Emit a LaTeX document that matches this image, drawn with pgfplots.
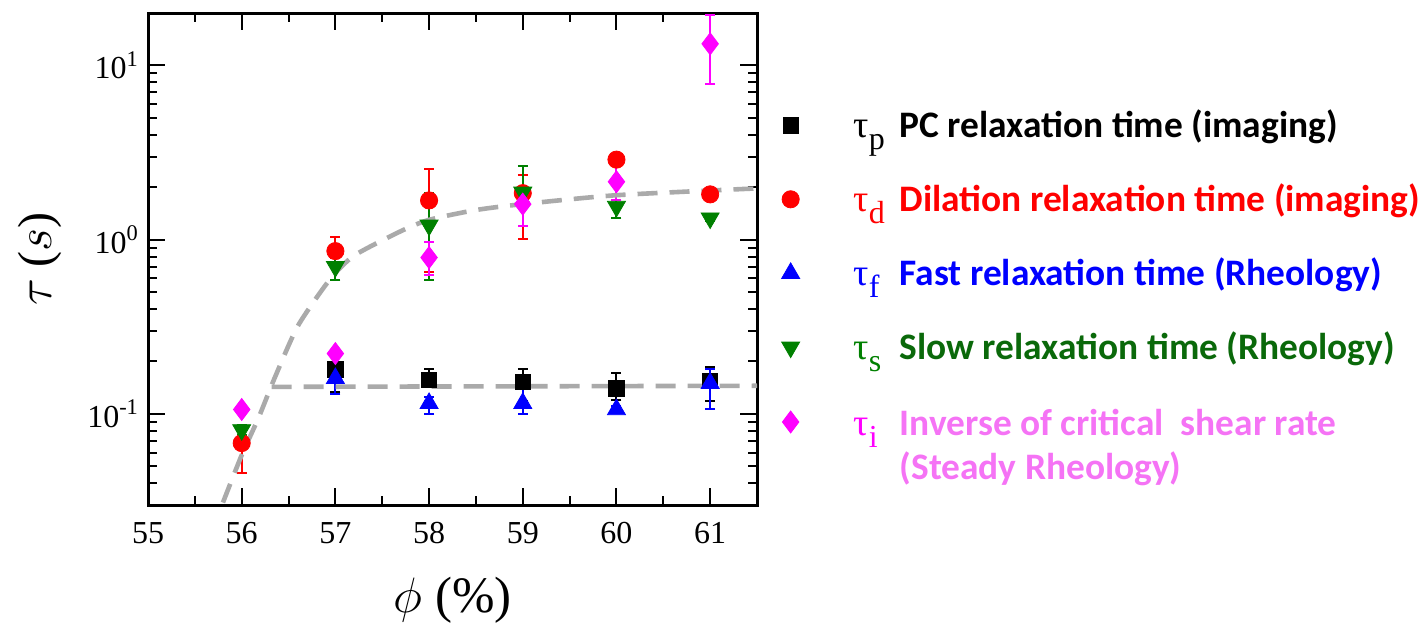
\documentclass[border=0pt]{standalone}
\usepackage{fontspec}
\setmainfont{Liberation Serif}
\newfontfamily\leg{Carlito}
\usepackage{pgfplots}
\pgfplotsset{compat=1.18}
\definecolor{mred}{RGB}{255,0,0}
\definecolor{mblue}{RGB}{0,0,255}
\definecolor{mgreen}{RGB}{0,128,0}
\definecolor{tgreen}{RGB}{10,105,10}
\definecolor{mmag}{RGB}{255,0,255}
\definecolor{tpink}{RGB}{245,115,245}
\definecolor{dgray}{RGB}{170,170,170}
\newcommand{\tauS}[2]{\makebox[23pt][l]{\fontsize{19}{19}\selectfont\color{#1}τ\raisebox{-6pt}{\fontsize{16}{16}\selectfont #2}}}
\newcommand{\legtxt}[2]{{\leg\bfseries\fontsize{18.7}{21}\selectfont\color{#1}#2}}
\begin{document}
\begin{tikzpicture}
\useasboundingbox (0,0) rectangle (713pt,314pt);
\begin{axis}[
  at={(74pt,61.5pt)}, anchor=south west,
  scale only axis, width=304.5pt, height=246pt,
  xmin=55, xmax=61.5, ymode=log, ymin=0.03, ymax=20,
  xtick={55,56,...,61},
  minor xtick={55.5,56.5,57.5,58.5,59.5,60.5},
  ytick={0.1,1,10},
  yticklabels={10\textsuperscript{-1},10\textsuperscript{0},10\textsuperscript{1}},
  minor ytick={0.04,0.05,0.06,0.07,0.08,0.09,0.2,0.3,0.4,0.5,0.6,0.7,0.8,0.9,2,3,4,5,6,7,8,9},
  /pgf/number format/assume math mode=true,
  tick align=inside,
  major tick length=8.5pt, minor tick length=4.5pt,
  every tick/.style={black, line width=1pt},
  axis line style={line width=1.5pt},
  ticklabel style={font=\fontsize{16}{16}\selectfont},
  xticklabel style={yshift=-5pt},
  yticklabel style={xshift=-1pt},
  xlabel={\fontsize{25.5}{25.5}\selectfont $\phi$ (\%)},
  ylabel={\fontsize{24}{24}\selectfont $\tau$ ($s$)},
  xlabel style={yshift=-10pt},
  ylabel style={yshift=6pt},
  legend style={draw=none, fill=none, at={(1.03,0.82)}, anchor=north west,
    row sep=17.6pt, font=\fontsize{18}{21}\selectfont},
  legend cell align=left,
  error bars/y dir=both, error bars/y explicit,
  error bars/error bar style={line width=1pt},
  error bars/error mark options={rotate=90, mark size=2.5pt, line width=1pt},
]
% tau_p
\addplot[only marks, mark=square*, mark size=3.8pt, color=black,
  error bars/error bar style={black, line width=1pt}] coordinates {
  (57,0.18) += (0,0.042) -= (0,0.047)
  (58,0.157) += (0,0.023) -= (0,0.015)
  (59,0.152) += (0,0.028) -= (0,0.034)
  (60,0.140) += (0,0.031) -= (0,0.020)
  (61,0.155) += (0,0.031) -= (0,0.037)
};
\addlegendentry{\hspace{25pt}\tauS{black}{p}\legtxt{black}{PC relaxation time (imaging)}}
% tau_d
\addplot[only marks, mark=*, mark size=4.3pt, color=mred] coordinates {
  (56,0.068) += (0,0.017) -= (0,0.022)
  (57,0.86) += (0,0.17) -= (0,0.08)
  (58,1.68) += (0,0.88) -= (0,1.03)
  (59,1.85) += (0,0.5) -= (0,0.84)
  (60,2.88) += (0,0.15) -= (0,0.15)
  (61,1.82) += (0,0.12) -= (0,0.12)
};
\addlegendentry{\hspace{25pt}\tauS{mred}{d}\legtxt{mred}{Dilation relaxation time (imaging)}}
% tau_f
\addplot[only marks, mark=triangle*, mark size=5.2pt, color=mblue] coordinates {
  (57,0.16) += (0,0.01) -= (0,0.03)
  (58,0.115) += (0,0.01) -= (0,0.015)
  (59,0.115) += (0,0.025) -= (0,0.015)
  (60,0.106) += (0,0.005) -= (0,0.005)
  (61,0.15) += (0,0.03) -= (0,0.044)
};
\addlegendentry{\hspace{25pt}\tauS{mblue}{f}\legtxt{mblue}{Fast relaxation time (Rheology)}}
% tau_s
\addplot[only marks, mark=triangle*, mark options={rotate=180}, mark size=5.2pt, color=mgreen] coordinates {
  (56,0.081) += (0,0.005) -= (0,0.005)
  (57,0.70) += (0,0.12) -= (0,0.11)
  (58,1.21) += (0,0.64) -= (0,0.62)
  (59,1.87) += (0,0.78) -= (0,0.35)
  (60,1.55) += (0,0.15) -= (0,0.22)
  (61,1.33) += (0,0.05) -= (0,0.05)
};
\addlegendentry{\hspace{25pt}\tauS{mgreen}{s}\legtxt{tgreen}{Slow relaxation time (Rheology)}}
% tau_i
\addplot[only marks, mark=diamond*, mark size=5.5pt, color=mmag] coordinates {
  (56,0.106) += (0,0.005) -= (0,0.005)
  (57,0.222) += (0,0.01) -= (0,0.01)
  (58,0.79) += (0,0.18) -= (0,0.16)
  (59,1.60) += (0,0.37) -= (0,0.40)
  (60,2.15) += (0,0.49) -= (0,0.45)
  (61,13.3) += (0,6.3) -= (0,5.43)
};
\addlegendentry{\hspace{25pt}\tauS{mmag}{i}\legtxt{tpink}{\begin{tabular}[t]{@{}l@{}}Inverse of critical\ \ shear rate\\[1pt](Steady Rheology)\end{tabular}}}
% dashed guide curves
\addplot[forget plot, dgray, line width=2.3pt, dash pattern=on 10pt off 6pt, smooth, tension=0.4] coordinates {
  (55.80,0.031) (56.0,0.058) (56.18,0.095) (56.35,0.16) (56.6,0.32) (56.94,0.59)
  (57.2,0.81) (57.7,1.12) (58.0,1.30) (58.5,1.48) (59,1.60) (60,1.80) (61.5,1.97)
};
\addplot[forget plot, dgray, line width=2.3pt, dash pattern=on 10pt off 6pt] coordinates {
  (56.32,0.143) (61.5,0.145)
};
\end{axis}
\end{tikzpicture}
\end{document}
